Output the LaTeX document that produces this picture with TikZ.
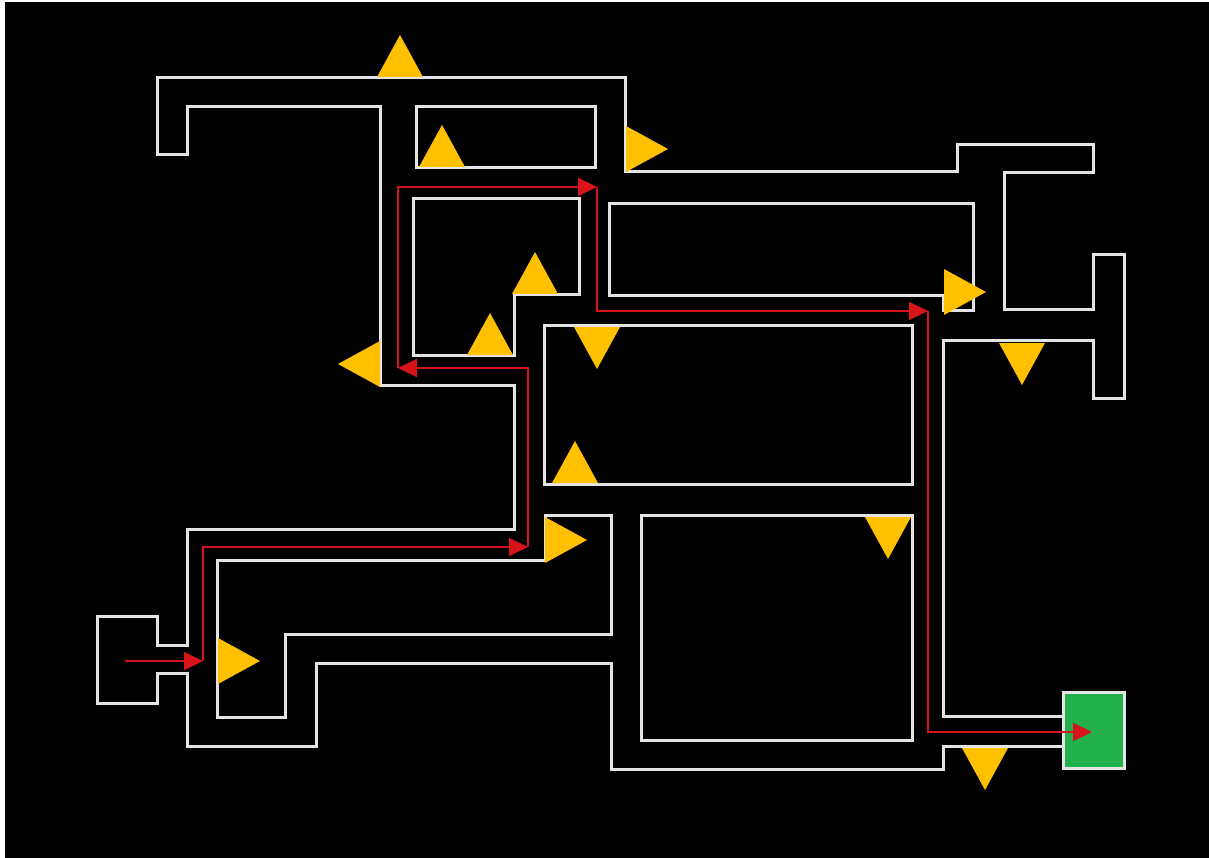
\documentclass[tikz,border=0pt]{standalone}
\usetikzlibrary{arrows.meta}

\definecolor{wallgray}{RGB}{228,228,228}
\definecolor{routered}{RGB}{215,20,25}
\definecolor{markgold}{RGB}{255,192,0}
\definecolor{goalgreen}{RGB}{34,177,76}

\begin{document}
\begin{tikzpicture}[x=1pt,y=-1pt,>={Triangle[length=19pt,width=18pt]},
    wall/.style={draw=wallgray,line width=3pt,line join=miter},
    route/.style={->,draw=routered,line width=2pt},
    marker/.style={fill=markgold}]
    \useasboundingbox (0,0) rectangle (1209,858);
    \fill[white] (0,0) rectangle (1209,858);
    \fill[black] (5,2) rectangle (1209,858);

    % outer wall, one loop from the goal round to the goal
    \draw[wall] (1063,716) -- (943,716) -- (943,340) -- (1093,340) -- (1093,398)
        -- (1124,398) -- (1124,255) -- (1093,255) -- (1093,310) -- (1004,310)
        -- (1004,173) -- (1093,173) -- (1093,145) -- (957,145) -- (957,172)
        -- (625,172) -- (625,78) -- (157,78) -- (157,155) -- (187,155)
        -- (187,107) -- (380,107) -- (380,385) -- (514,385) -- (514,529)
        -- (187,529) -- (187,645) -- (157,645) -- (157,616) -- (97,616)
        -- (97,703) -- (157,703) -- (157,673) -- (187,673) -- (187,746)
        -- (316,746) -- (316,663) -- (611,663) -- (611,769) -- (943,769)
        -- (943,746) -- (1063,746);

    % inner blocks
    \draw[wall] (416,107) rectangle (595,168);
    \draw[wall] (413,199) -- (579,199) -- (579,295) -- (514,295) -- (514,355)
        -- (413,355) -- cycle;
    \draw[wall] (609,204) -- (973,204) -- (973,311) -- (943,311) -- (943,296)
        -- (609,296) -- cycle;
    \draw[wall] (544,325) rectangle (912,484);
    \draw[wall] (545,515) -- (611,515) -- (611,634) -- (285,634) -- (285,717)
        -- (217,717) -- (217,560) -- (545,560) -- cycle;
    \draw[wall] (641,515) rectangle (912,740);

    % goal
    \draw[wall,fill=goalgreen] (1063,692) rectangle (1124,768);

    % route through the maze
    \coordinate (start) at (125,661);
    \coordinate (turnA) at (203,661);
    \coordinate (turnB) at (528,547);
    \coordinate (turnC) at (398,368);
    \coordinate (turnD) at (597,187);
    \coordinate (turnE) at (928,311);
    \coordinate (goal) at (1092,732);
    \draw[route] (start) -- (turnA);
    \draw[route] (turnA) |- (turnB);
    \draw[route] (turnB) |- (turnC);
    \draw[route] (turnC) |- (turnD);
    \draw[route] (turnD) |- (turnE);
    \draw[route] (turnE) |- (goal);

    % markers: base centre and turn
    \foreach \x/\y/\a in {400/77/0, 442/167/0, 626/149/-90, 535/294/0,
        490/355/0, 380/364/90, 597/327/180, 944/292/-90, 1022/343/180,
        575/483/0, 545/540/-90, 218/661/-90, 888/517/180, 985/748/180}
        \fill[marker,shift={(\x,\y)},rotate=\a] (-23,0) -- (23,0) -- (0,-42) -- cycle;
\end{tikzpicture}
\end{document}
